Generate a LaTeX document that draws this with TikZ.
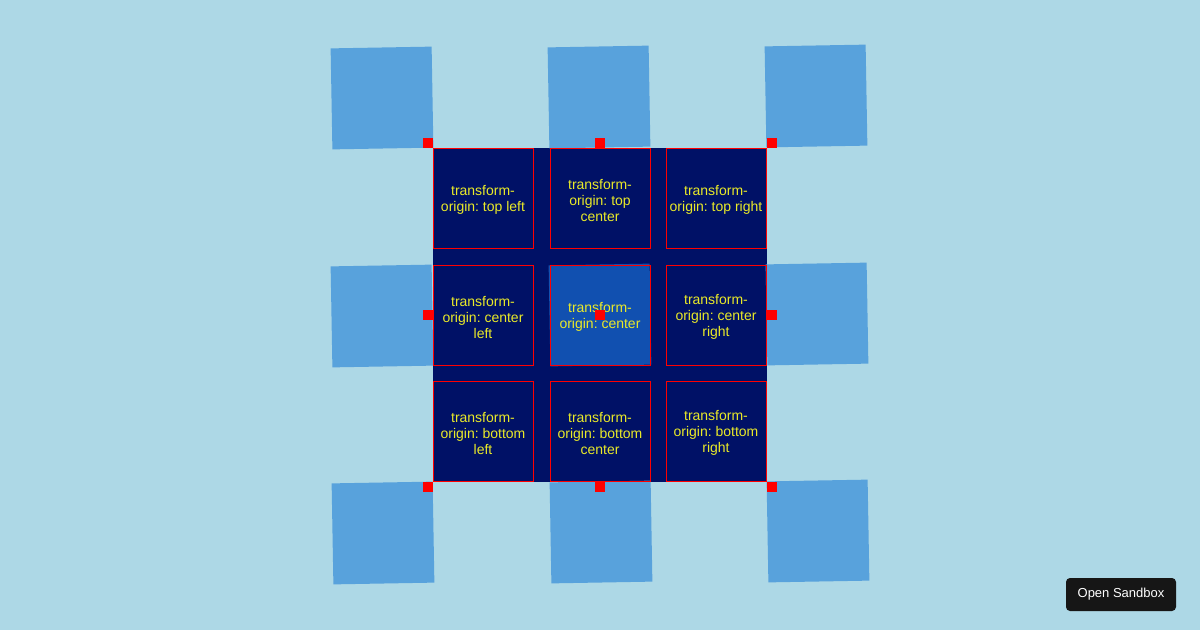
\documentclass[tikz,border=0pt]{standalone}
\usepackage{fontspec}
\setmainfont{Liberation Sans}
\usepackage{tikz}
\usepackage{xcolor}
\definecolor{bgblue}{HTML}{ADD8E6}
\definecolor{gridnavy}{HTML}{001166}
\definecolor{sqblue}{HTML}{58A2DC}
\definecolor{midblue}{HTML}{1150B0}
\definecolor{textyellow}{HTML}{EAEA28}
\definecolor{btnblack}{HTML}{161616}
\frenchspacing

\begin{document}
\begin{tikzpicture}[x=1pt,y=-1pt,
    celltext/.style={align=center, text=textyellow, inner sep=0pt,
        font=\fontsize{14}{16}\selectfont},
    cell/.style={draw=red, line width=1pt, minimum size=100pt, inner sep=0pt,
        label={[celltext, yshift=-2pt]center:{#1}}},
    moved/.style={fill=sqblue, minimum size=101pt, inner sep=0pt, rotate=1},
    marker/.style={fill=red, minimum size=10pt, inner sep=0pt}]
% Page and grid container
\fill[bgblue] (0,0) rectangle (1200,630);
\useasboundingbox (0,0) rectangle (1200,630);
\fill[gridnavy] (433,148) rectangle (767,482);

% Transformed squares
\foreach \x/\y/\n in {382/98/tl, 599/97/tc, 816/96/tr,
                      382/316/cl, 817/314/cr,
                      383/533/bl, 601/532/bc, 818/531/br} {
    \node[moved] (s-\n) at (\x,\y) {};
}
\node[moved, fill=midblue] (s-cc) at (600,315) {};

% Cells
\node[cell={transform-\\origin: top left}] (tl) at (483,198) {};
\node[cell={transform-\\origin: top\\center}] (tc) at (600,198) {};
\node[cell={transform-\\origin: top right}] (tr) at (716,198) {};
\node[cell={transform-\\origin: center\\left}] (cl) at (483,315) {};
\node[cell={transform-\\origin: center}] (cc) at (600,315) {};
\node[cell={transform-\\origin: center\\right}] (cr) at (716,315) {};
\node[cell={transform-\\origin: bottom\\left}] (bl) at (483,431) {};
\node[cell={transform-\\origin: bottom\\center}] (bc) at (600,431) {};
\node[cell={transform-\\origin: bottom\\right}] (br) at (716,431) {};

% Origin markers
\foreach \x/\y/\n in {428/143/tl, 600/143/tc, 772/143/tr,
                      428/315/cl, 600/315/cc, 772/315/cr,
                      428/487/bl, 600/487/bc, 772/487/br} {
    \node[marker] (m-\n) at (\x,\y) {};
}

% Button
\node[fill=btnblack, rounded corners=4pt, minimum width=110pt, minimum height=33pt,
    text=white, font=\fontsize{13}{15}\selectfont] (sandbox) at (1121,594.5) {Open Sandbox};
\end{tikzpicture}
\end{document}
